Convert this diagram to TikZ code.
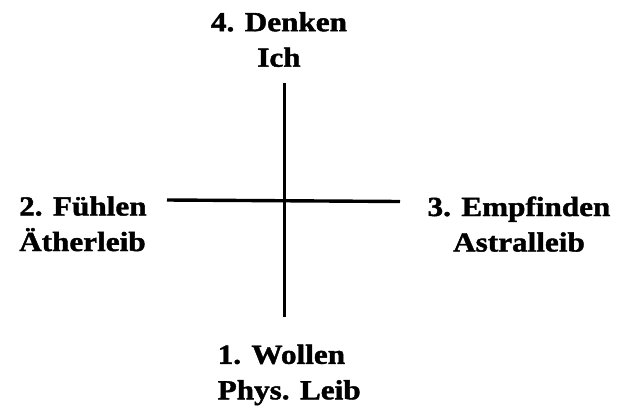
\documentclass[tikz,border=0pt]{standalone}
\usepackage{fontspec}
\setmainfont{Liberation Serif}[FakeStretch=1.13,BoldFeatures={FakeBold=1.5}]
\usepackage{tikz}
\usetikzlibrary{positioning}

\begin{document}
\begin{tikzpicture}[x=1pt,y=-1pt,font=\bfseries\fontsize{27.6}{35.5}\selectfont,every node/.style={inner sep=0pt},pole/.style={align=center,anchor=base},axis/.style={line width=3.4pt}]
  \useasboundingbox (0,0) rectangle (625,408);
  \node[pole] (denken) at (279,66.7) {4. Denken\\Ich};
  \node[pole,align=left,anchor=base west] (fuehlen) at (19,251) {2. Fühlen\\Ätherleib};
  \node[pole] (empfinden) at (519,251.5) {3. Empfinden\\Astralleib};
  \node[pole,align=left,anchor=base west] (wollen) at (217.5,399.3) {1. Wollen\\Phys. Leib};
  \coordinate (top) at (284.5,83);\coordinate (bot) at (284.5,317);
  \coordinate (lft) at (167,200);\coordinate (rgt) at (400,201.5);
  \draw[axis] (top)--(bot);
  \draw[axis] (lft)--(rgt);
\end{tikzpicture}
\end{document}
